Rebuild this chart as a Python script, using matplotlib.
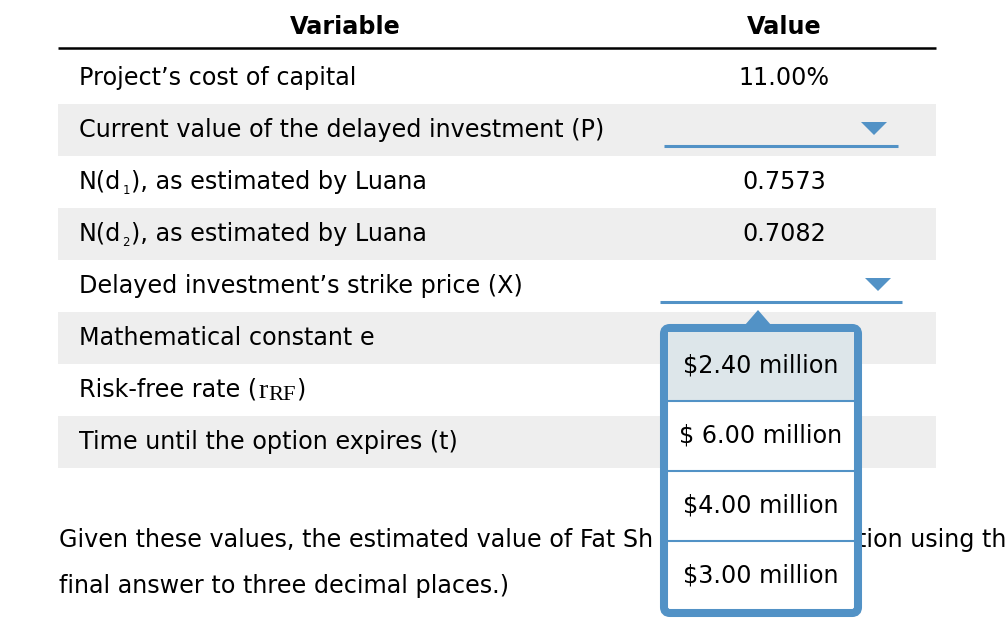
import matplotlib
matplotlib.use("Agg")
import matplotlib.pyplot as plt
from matplotlib.patches import Rectangle, Polygon, FancyBboxPatch

# --- table content ---
HEADERS = ["Variable", "Value"]
# each label is a list of (text, kind) pieces: kind "n" normal, "sub" tiny
# subscript, "serif" / "serifsub" for the r_RF symbol
LABELS = [
    [("Project\u2019s cost of capital", "n")],
    [("Current value of the delayed investment (P)", "n")],
    [("N(d", "n"), ("1", "sub"), ("), as estimated by Luana", "n")],
    [("N(d", "n"), ("2", "sub"), ("), as estimated by Luana", "n")],
    [("Delayed investment\u2019s strike price (X)", "n")],
    [("Mathematical constant e", "n")],
    [("Risk-free rate (", "n"), ("r", "serif"), ("RF", "serifsub"), (")", "n")],
    [("Time until the option expires (t)", "n")],
]
VALUES = ["11.00%", None, "0.7573", "0.7082", None, "", "", ""]
DROPDOWN_ROWS = [1, 4]
OPTIONS = ["$2.40 million", "$ 6.00 million", "$4.00 million", "$3.00 million"]
FOOTER = [
    "Given these values, the estimated value of Fat Sh",
    "final answer to three decimal places.)",
]
FOOTER_TAIL = "tion using th"

BLUE = "#5292c6"
GRAY = "#eeeeee"
FS = 17.2

fig = plt.figure(figsize=(10.07, 6.23), dpi=100)
ax = fig.add_axes([0, 0, 1, 1])
ax.set_xlim(0, 1007)
ax.set_ylim(623, 0)
ax.axis("off")

X0, X1 = 58, 936
LABEL_X = 79
VALUE_X = 784
ROW_Y0, ROW_H = 78, 52

PIECE_STYLE = {
    "n": dict(dy=0, fontsize=FS, family="DejaVu Sans", gap=0),
    "sub": dict(dy=8, fontsize=8.5, family="DejaVu Sans", gap=1),
    "serif": dict(dy=1, fontsize=FS + 3, family="Liberation Serif", gap=1),
    "serifsub": dict(dy=6, fontsize=FS - 1, family="Liberation Serif", gap=0),
}

# header
ax.text(345, 27, HEADERS[0], ha="center", va="center", fontsize=FS, fontweight="bold")
ax.text(VALUE_X, 27, HEADERS[1], ha="center", va="center", fontsize=FS, fontweight="bold")
ax.plot([X0, X1], [48, 48], color="black", lw=1.8, solid_capstyle="butt")

fig.canvas.draw()
for i, (pieces, val) in enumerate(zip(LABELS, VALUES)):
    yc = ROW_Y0 + i * ROW_H
    if i % 2 == 1:
        ax.add_patch(Rectangle((X0, yc - ROW_H / 2), X1 - X0, ROW_H,
                               facecolor=GRAY, edgecolor="none", zorder=0))
    x = LABEL_X
    for txt, kind in pieces:
        st = PIECE_STYLE[kind]
        t = ax.text(x + st["gap"], yc + st["dy"], txt, ha="left", va="center",
                    fontsize=st["fontsize"], family=st["family"])
        if len(pieces) > 1:
            fig.canvas.draw()
            x = t.get_window_extent().x1 + st["gap"]
    if val:
        ax.text(VALUE_X, yc, val, ha="center", va="center", fontsize=FS)

# dropdown controls
for r, (lx0, lx1) in zip(DROPDOWN_ROWS, [(664, 898), (660, 902)]):
    yc = ROW_Y0 + r * ROW_H
    ax.plot([lx0, lx1], [yc + 16, yc + 16], color=BLUE, lw=2.2, solid_capstyle="butt")
    tx = lx1 - 24
    ax.add_patch(Polygon([(tx - 13, yc - 8), (tx + 13, yc - 8), (tx, yc + 5)],
                         closed=True, facecolor=BLUE, edgecolor="none"))

# popup list
PX0, PX1, PY0, PY1 = 664, 858, 328, 613
ax.add_patch(Polygon([(745, 325), (758, 310), (771, 325)], closed=True,
                     facecolor=BLUE, edgecolor="none", zorder=5))
ax.add_patch(FancyBboxPatch((PX0, PY0), PX1 - PX0, PY1 - PY0,
                            boxstyle="round,pad=0,rounding_size=6",
                            facecolor="white", edgecolor=BLUE, lw=5.8, zorder=5))
item_h = 70
ax.add_patch(Rectangle((668, 332), 186, 69, facecolor="#dde6ea",
                       edgecolor="none", zorder=6))
for k, opt in enumerate(OPTIONS):
    yc = 366 + k * item_h
    ax.text(761, yc, opt, ha="center", va="center", fontsize=FS, zorder=7)
    if k > 0:
        ys = 331 + k * item_h
        ax.plot([668, 854], [ys, ys], color=BLUE, lw=1.5, zorder=7)

# footer text
ax.text(59, 540, FOOTER[0], ha="left", va="center", fontsize=FS)
ax.text(857, 540, FOOTER_TAIL, ha="left", va="center", fontsize=FS, clip_on=True)
ax.text(59, 586, FOOTER[1], ha="left", va="center", fontsize=FS)

fig.savefig("out.png", dpi=100, facecolor="white")
